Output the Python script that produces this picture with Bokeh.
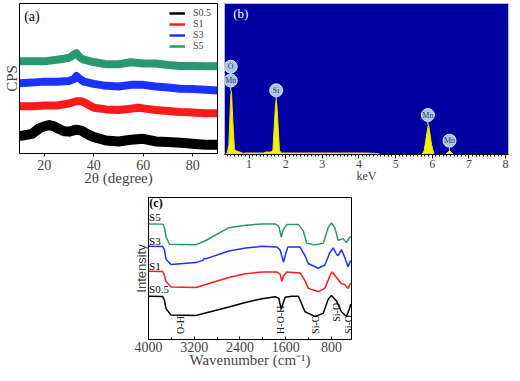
import math
from bokeh.plotting import figure
from bokeh.layouts import column, row
from bokeh.models import (Legend, LegendItem, FixedTicker, SingleIntervalTicker,
                          Spacer, Range1d)
from bokeh.core.properties import value
from bokeh.embed import file_html
from bokeh.resources import INLINE

SERIF = "Liberation Serif"
SANS = "Liberation Sans"

# ---------------- (a) XRD data (2theta, arbitrary CPS) ----------------
s05_theta = [10, 15, 18, 20, 22, 24, 26, 28, 30, 33, 35, 38, 40, 45, 50, 55, 60, 65, 70, 75, 80, 85, 90]
s05_cps = [17.7, 20, 25.7, 27.7, 29, 27.7, 25, 22.7, 22.3, 24.3, 23.3, 19, 16.7, 13.3, 12.3, 14, 15, 12.3, 11.7, 11, 10, 9, 9]
s1_theta = [10, 15, 20, 25, 30, 33, 35, 37, 40, 45, 50, 55, 58, 60, 65, 70, 75, 80, 85, 90]
s1_cps = [48.3, 48.3, 49, 49, 51, 53.3, 53.3, 51, 46.7, 45, 44.3, 45.7, 46.7, 46, 44.3, 43.3, 42.3, 41.7, 41, 41]
s3_theta = [10, 15, 20, 25, 30, 32, 33, 34, 36, 40, 45, 50, 55, 60, 65, 70, 75, 80, 85, 90]
s3_cps = [71.7, 72.3, 73.3, 73.3, 74, 76, 79, 76.7, 73.3, 71, 69, 68.3, 70, 70, 68.3, 67.3, 66, 65.7, 65, 64.3]
s5_theta = [10, 15, 20, 25, 28, 30, 31, 32, 33, 34, 35, 36, 38, 40, 45, 50, 55, 60, 65, 70, 75, 80, 85, 90]
s5_cps = [94, 94, 94, 95.7, 96.7, 97.7, 99, 101, 102.3, 99, 97, 95.7, 94.5, 93.3, 91, 91, 93, 91.7, 91.7, 90.3, 89.3, 89.3, 89, 89]
xrd_names = ["S0.5", "S1", "S3", "S5"]
xrd_colors = ["#000000", "#ff1a1a", "#1a33ff", "#2a9870"]
xrd_band = [10, 8, 8, 8]
a_ticks = [20, 40, 60, 80]

# ---------------- (b) EDS spectrum ----------------
eds_kev = [0.33, 0.40, 0.45, 0.50, 0.52, 0.55, 0.60, 0.62, 0.70, 0.78, 0.85, 0.90, 1.40, 1.45, 1.60,
           1.65, 1.72, 1.74, 1.76, 1.83, 1.88, 2.5, 3.5, 4.2, 4.5, 4.6, 5.72, 5.78, 5.88, 5.90, 5.98,
           6.05, 6.35, 6.42, 6.47, 6.52, 6.58, 8.08]
eds_counts = [0, 1, 10, 60, 64, 40, 6, 4, 3, 2, 1, 1.5, 1.5, 2.5, 2.5,
              4, 50, 55, 50, 4, 1.5, 1.5, 1.5, 1.5, 1, 0, 0, 4, 28, 30, 10,
              0, 0, 2, 4, 2, 0, 0]
eds_label_text = ["O", "Mn", "Si", "Mn", "Mn"]
eds_label_kev = [0.50, 0.50, 1.74, 5.88, 6.47]
eds_label_count = [89, 75, 65, 40, 14]
eds_peak_count = [75, 64, 55, 30, 4]

# ---------------- (c) FTIR data (wavenumber, arbitrary intensity) ----------------
ir_s5_wn = [4000, 3751, 3722, 3693, 3635, 3172, 2999, 2594, 2304, 2015, 1784, 1720, 1679, 1640, 1581,
            1378, 1292, 1234, 1089, 944, 858, 800, 742, 684, 597, 539, 481, 460]
ir_s5_int = [123.7, 123.5, 120, 110, 102, 101.3, 106, 119.7, 122.3, 123.7, 123.7, 121, 109.7, 118, 123,
             123, 116.3, 103, 101.3, 103, 119.7, 124.7, 119.7, 106.3, 108, 103.7, 109.7, 110]
ir_s3_wn = [4000, 3751, 3722, 3693, 3606, 3172, 3040, 3028, 2999, 2594, 2304, 2015, 1755, 1700, 1639,
            1600, 1564, 1350, 1263, 1205, 1031, 916, 829, 771, 713, 684, 626, 568, 510, 464]
ir_s3_int = [99.7, 99.5, 96, 86, 80.3, 82.3, 85, 87, 86.3, 94.7, 98, 99.7, 99, 96, 83,
             92, 99, 99, 89.7, 81.3, 76.3, 79.7, 93, 98, 91.3, 89.7, 96.3, 88, 78, 84.7]
ir_s1_wn = [4000, 3751, 3722, 3693, 3606, 3172, 2594, 2304, 2015, 1755, 1700, 1668, 1640, 1581, 1350,
            1263, 1205, 1031, 916, 829, 788, 713, 626, 568, 510, 464]
ir_s1_int = [73, 72.8, 69, 62, 56.3, 55.7, 66.3, 70.3, 72.3, 72.3, 70, 62.3, 68, 72.3, 71.3,
             63, 54.7, 51.3, 54.7, 68, 72.3, 66.3, 59.7, 59, 54.7, 60.3]
ir_s05_wn = [4000, 3751, 3722, 3693, 3606, 3172, 2594, 2304, 2015, 1784, 1720, 1679, 1640, 1610, 1494,
             1378, 1263, 1089, 944, 858, 800, 713, 626, 539, 481, 464]
ir_s05_int = [46.3, 46, 42, 33, 26.3, 25.7, 34.7, 39.7, 43.7, 45.7, 44, 32.3, 40, 45.3, 46.3,
              46.3, 29.7, 24.7, 28, 43, 47, 41.3, 29.7, 24.7, 33.7, 38]
ir_label_text = ["S5", "S3", "S1", "S0.5"]
ir_label_wn = [3990, 3990, 3990, 3990]
ir_label_int = [131, 105, 79, 54]
band_text = ["O-H", "H-O-H", "Si-O", "Si-O", "Si-O"]
band_wn = [3433, 1697, 1077, 713, 500]
band_int = [6, 6, 6, 19, 6]
c_ticks = [4000, 3200, 2400, 1600, 800]
c_minor = [3600, 2800, 2000, 1200]


def style_axis(ax, size="14px", title_size="15px", title_gap=-3, label_gap=3):
    ax.axis_label_text_font = SERIF
    ax.axis_label_text_font_style = "normal"
    ax.axis_label_text_font_size = title_size
    ax.axis_label_text_line_height = 0.8
    ax.major_label_text_font = SERIF
    ax.major_label_text_font_size = size
    ax.major_label_text_line_height = 0.8
    ax.axis_line_color = "black"
    ax.major_tick_line_color = "black"
    ax.minor_tick_line_color = "black"
    ax.axis_label_standoff = title_gap
    ax.major_label_standoff = label_gap


# ---------------- figure (a) ----------------
pa = figure(frame_width=198, frame_height=150, x_range=Range1d(10, 90), y_range=Range1d(0, 153),
            output_backend="svg", toolbar_location=None,
            min_border_left=12, min_border_right=4, min_border_top=2, min_border_bottom=20)
pa.grid.visible = False
pa.outline_line_color = "black"
style_axis(pa.xaxis[0])
style_axis(pa.yaxis[0], title_gap=0, label_gap=0)
pa.xaxis.ticker = FixedTicker(ticks=a_ticks, minor_ticks=[])
pa.xaxis.major_tick_in = 0
pa.xaxis.major_tick_out = 3
pa.xaxis.axis_label = "2θ (degree)"
pa.yaxis.ticker = FixedTicker(ticks=[], minor_ticks=[])
pa.yaxis.axis_label = "CPS"
pa.yaxis.major_label_text_font_size = "0px"

items = []
for th, cps, name, col, bw in zip([s05_theta, s1_theta, s3_theta, s5_theta],
                                  [s05_cps, s1_cps, s3_cps, s5_cps], xrd_names, xrd_colors, xrd_band):
    pa.line(th, cps, line_color=col, line_width=bw, line_join="round")
    thin = pa.line(th, cps, line_color=col, line_width=2.5)
    items.append(LegendItem(label=name, renderers=[thin]))
leg = Legend(items=items, location="top_right", label_text_font=SERIF,
             label_text_font_size="10px", glyph_width=16, glyph_height=6, label_height=6,
             spacing=0, padding=1, margin=3, border_line_alpha=0, background_fill_alpha=0,
             label_standoff=8, label_text_line_height=0.9)
pa.add_layout(leg)
pa.text([11.9], [140], text=["(a)"], text_font=value(SERIF), text_font_size="14px",
        text_baseline="middle", text_align="left")

# ---------------- figure (b) ----------------
pb = figure(frame_width=284, frame_height=151, x_range=Range1d(0.33, 8.08), y_range=Range1d(0, 153),
            output_backend="svg", toolbar_location=None,
            min_border_left=3, min_border_right=1, min_border_top=3, min_border_bottom=20)
pb.grid.visible = False
pb.background_fill_color = "#0000a2"
pb.outline_line_color = "#b8b8d8"
pb.yaxis.visible = False
style_axis(pb.xaxis[0], "12px", "12px", -2, 1)
pb.xaxis.ticker = SingleIntervalTicker(interval=1, num_minor_ticks=10)
pb.xaxis.major_tick_in = 0
pb.xaxis.major_tick_out = 4
pb.xaxis.minor_tick_in = 0
pb.xaxis.minor_tick_out = 2
pb.xaxis.axis_label = "keV"
pb.varea(x=eds_kev, y1=[0] * len(eds_kev), y2=eds_counts, fill_color="#f2f200")
pb.line(eds_kev, eds_counts, line_color="#e8e800", line_width=1)
pb.segment(x0=eds_label_kev, y0=eds_label_count, x1=eds_label_kev, y1=eds_peak_count,
           line_color="#a9c6e6", line_width=1.2)
pb.scatter(eds_label_kev, eds_label_count, marker="circle", size=13,
           fill_color="#a9c6e6", line_color="#dce8f4", line_width=1)
pb.text(eds_label_kev, eds_label_count, text=eds_label_text, text_font=value(SERIF),
        text_font_size="8px", text_align="center", text_baseline="middle", text_color="#3a4060")
pb.text([0.57], [143], text=["(b)"], text_font=value(SERIF), text_font_size="13px",
        text_baseline="middle", text_align="left", text_color="white")

# ---------------- figure (c) ----------------
pc = figure(frame_width=203, frame_height=142, x_range=Range1d(4000, 450), y_range=Range1d(0, 152),
            output_backend="svg", toolbar_location=None,
            min_border_left=22, min_border_right=11, min_border_top=10, min_border_bottom=20)
pc.grid.visible = False
pc.outline_line_color = "black"
style_axis(pc.xaxis[0], label_gap=2)
style_axis(pc.yaxis[0], title_gap=0, label_gap=0)
pc.xaxis.ticker = FixedTicker(ticks=c_ticks, minor_ticks=c_minor)
pc.xaxis.major_tick_in = 3
pc.xaxis.major_tick_out = 0
pc.xaxis.minor_tick_in = 2
pc.xaxis.minor_tick_out = 0
pc.xaxis.axis_label = "Wavenumber (cm⁻¹)"
pc.yaxis.ticker = FixedTicker(ticks=[], minor_ticks=[])
pc.yaxis.major_label_text_font_size = "0px"
pc.yaxis.axis_label = "Intensity"
pc.yaxis.axis_label_text_font = SANS
pc.yaxis.axis_label_text_font_size = "13px"

for wn, inten, col in zip([ir_s05_wn, ir_s1_wn, ir_s3_wn, ir_s5_wn],
                          [ir_s05_int, ir_s1_int, ir_s3_int, ir_s5_int], xrd_colors):
    pc.line(wn, inten, line_color=col, line_width=1.5)
pc.text(ir_label_wn, ir_label_int, text=ir_label_text, text_font=value(SERIF),
        text_font_size="11px", text_align="left", text_baseline="middle")
pc.text([3985], [146], text=["(c)"], text_font=value(SERIF), text_font_size="12px",
        text_font_style="bold", text_align="left", text_baseline="middle")
pc.text(band_wn, band_int, text=band_text, text_font=value(SERIF), text_font_size="10px",
        text_align="left", text_baseline="middle", angle=math.pi / 2)

layout = column(row(pa, pb), row(Spacer(width=126, height=10), pc))
open("out.html", "w").write(file_html(layout, INLINE))
